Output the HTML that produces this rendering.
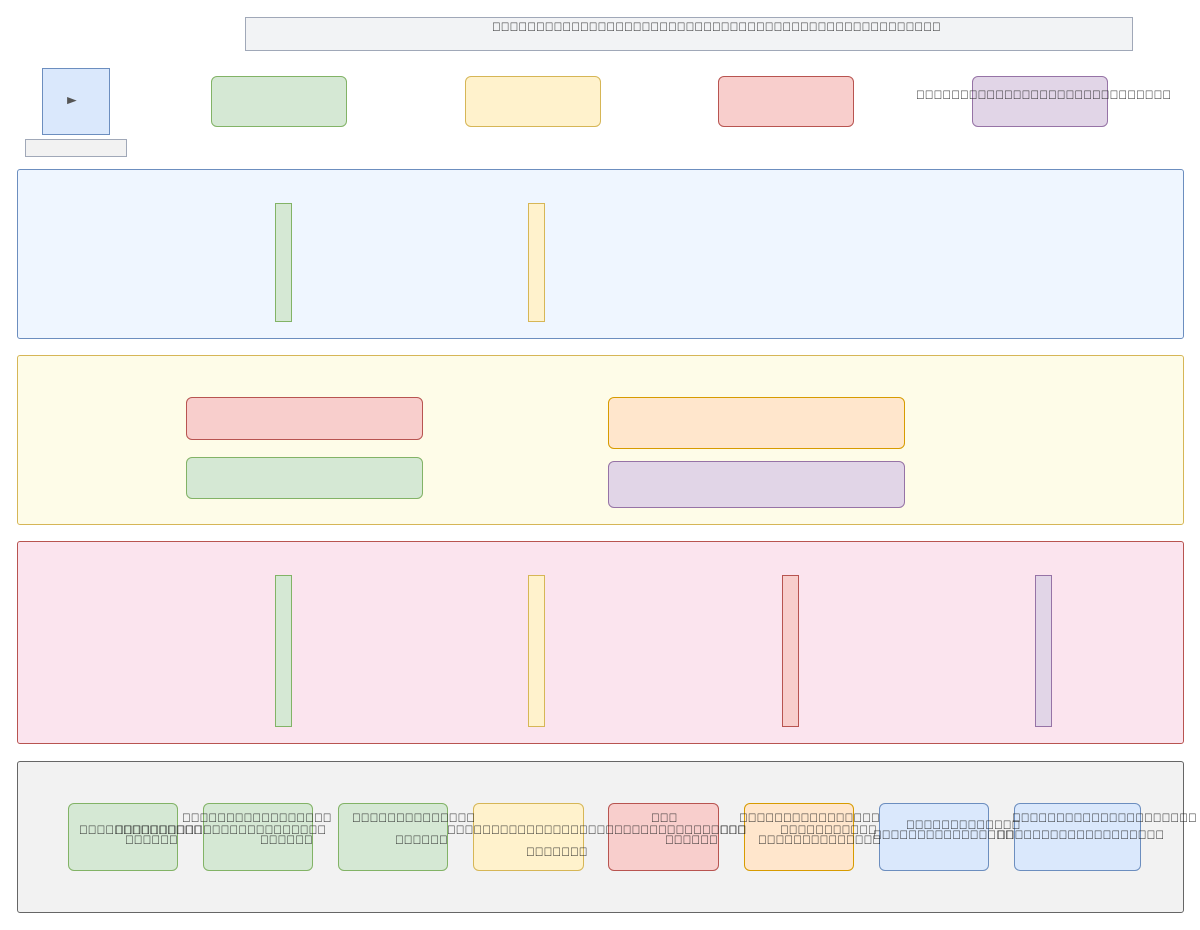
<!DOCTYPE html>
<html><head><meta charset="utf-8"><style>
body{margin:0;width:1200px;height:930px;background:#fff;position:relative;overflow:hidden;font-family:"Liberation Sans",sans-serif;font-size:12px;color:#222}
div{position:absolute;box-sizing:border-box}
.r{border-radius:6px}
.t{white-space:nowrap;line-height:14px;height:14px;letter-spacing:-0.2px}
.g{background:#d5e8d4;border:1px solid #82b366}
.y{background:#fff2cc;border:1px solid #d6b656}
.rd{background:#f8cecc;border:1px solid #b85450}
.p{background:#e1d5e7;border:1px solid #9673a6}
.o{background:#ffe6cc;border:1px solid #d79b00}
.b{background:#dae8fc;border:1px solid #6c8ebf}
</style></head><body>
<div style="left:245px;top:17px;width:888px;height:34px;background:#f2f3f5;border:1px solid #a0a8b8"></div>
<div class="b" style="left:42px;top:68px;width:68px;height:67px;"></div>
<div style="left:64px;top:92px;color:#555;font-size:16px;transform:scaleY(0.75)">►</div>
<div style="left:25px;top:139px;width:102px;height:18px;background:#f2f2f2;border:1px solid #a0a8b8"></div>
<div class="g r" style="left:211px;top:76px;width:136px;height:51px"></div>
<div class="y r" style="left:465px;top:76px;width:136px;height:51px"></div>
<div class="rd r" style="left:718px;top:76px;width:136px;height:51px"></div>
<div class="p r" style="left:972px;top:76px;width:136px;height:51px"></div>

<div style="left:17px;top:169px;width:1167px;height:170px;background:#eff6ff;border:1px solid #6c8ebf;border-radius:3px"></div>
<div class="g" style="left:275px;top:203px;width:17px;height:119px"></div>
<div class="y" style="left:528px;top:203px;width:17px;height:119px"></div>

<div style="left:17px;top:355px;width:1167px;height:170px;background:#fefce8;border:1px solid #d6b656;border-radius:3px"></div>
<div class="rd r" style="left:186px;top:397px;width:237px;height:43px"></div>
<div class="g r" style="left:186px;top:457px;width:237px;height:42px"></div>
<div class="o r" style="left:608px;top:397px;width:297px;height:52px"></div>
<div class="p r" style="left:608px;top:461px;width:297px;height:47px"></div>

<div style="left:17px;top:541px;width:1167px;height:203px;background:#fbe4ee;border:1px solid #b85450;border-radius:3px"></div>
<div class="g" style="left:275px;top:575px;width:17px;height:152px"></div>
<div class="y" style="left:528px;top:575px;width:17px;height:152px"></div>
<div class="rd" style="left:782px;top:575px;width:17px;height:152px"></div>
<div class="p" style="left:1035px;top:575px;width:17px;height:152px"></div>

<div style="left:17px;top:761px;width:1167px;height:152px;background:#f2f2f2;border:1px solid #666;border-radius:3px"></div>
<div class="g r" style="left:68px;top:803px;width:110px;height:68px"></div>
<div class="g r" style="left:203px;top:803px;width:110px;height:68px"></div>
<div class="g r" style="left:338px;top:803px;width:110px;height:68px"></div>
<div class="y r" style="left:473px;top:803px;width:111px;height:68px"></div>
<div class="rd r" style="left:608px;top:803px;width:111px;height:68px"></div>
<div class="o r" style="left:744px;top:803px;width:110px;height:68px"></div>
<div class="b r" style="left:879px;top:803px;width:110px;height:68px"></div>
<div class="b r" style="left:1014px;top:803px;width:127px;height:68px"></div>

<div class="t" style="left:492px;top:20px">&#xE000;&#xE000;&#xE000;&#xE000;&#xE000;&#xE000;&#xE000;&#xE000;&#xE000;&#xE000;&#xE000;&#xE000;&#xE000;&#xE000;&#xE000;&#xE000;&#xE000;&#xE000;&#xE000;&#xE000;&#xE000;&#xE000;&#xE000;&#xE000;&#xE000;&#xE000;&#xE000;&#xE000;&#xE000;&#xE000;&#xE000;&#xE000;&#xE000;&#xE000;&#xE000;&#xE000;&#xE000;&#xE000;&#xE000;&#xE000;&#xE000;&#xE000;&#xE000;&#xE000;&#xE000;&#xE000;&#xE000;&#xE000;&#xE000;&#xE000;&#xE000;</div>
<div class="t" style="left:916px;top:88px">&#xE000;&#xE000;&#xE000;&#xE000;&#xE000;&#xE000;&#xE000;&#xE000;&#xE000;&#xE000;&#xE000;&#xE000;&#xE000;&#xE000;&#xE000;&#xE000;&#xE000;&#xE000;&#xE000;&#xE000;&#xE000;&#xE000;&#xE000;&#xE000;&#xE000;&#xE000;&#xE000;&#xE000;&#xE000;</div>

<div class="t" style="left:79px;top:823px">&#xE000;&#xE000;&#xE000;&#xE000;&#xE000;&#xE000;&#xE000;&#xE000;&#xE000;&#xE000;&#xE000;&#xE000;&#xE000;&#xE000;</div>
<div class="t" style="left:125px;top:833px">&#xE000;&#xE000;&#xE000;&#xE000;&#xE000;&#xE000;</div>
<div class="t" style="left:115px;top:823px">&#xE000;&#xE000;&#xE000;&#xE000;&#xE000;&#xE000;&#xE000;&#xE000;&#xE000;&#xE000;&#xE000;&#xE000;&#xE000;&#xE000;&#xE000;&#xE000;&#xE000;&#xE000;&#xE000;&#xE000;&#xE000;&#xE000;&#xE000;&#xE000;</div>
<div class="t" style="left:182px;top:811px">&#xE000;&#xE000;&#xE000;&#xE000;&#xE000;&#xE000;&#xE000;&#xE000;&#xE000;&#xE000;&#xE000;&#xE000;&#xE000;&#xE000;&#xE000;&#xE000;&#xE000;</div>
<div class="t" style="left:260px;top:833px">&#xE000;&#xE000;&#xE000;&#xE000;&#xE000;&#xE000;</div>
<div class="t" style="left:352px;top:811px">&#xE000;&#xE000;&#xE000;&#xE000;&#xE000;&#xE000;&#xE000;&#xE000;&#xE000;&#xE000;&#xE000;&#xE000;&#xE000;&#xE000;</div>
<div class="t" style="left:395px;top:833px">&#xE000;&#xE000;&#xE000;&#xE000;&#xE000;&#xE000;</div>
<div class="t" style="left:447px;top:823px">&#xE000;&#xE000;&#xE000;&#xE000;&#xE000;&#xE000;&#xE000;&#xE000;&#xE000;&#xE000;&#xE000;&#xE000;&#xE000;&#xE000;&#xE000;&#xE000;&#xE000;&#xE000;&#xE000;</div>
<div class="t" style="left:526px;top:845px">&#xE000;&#xE000;&#xE000;&#xE000;&#xE000;&#xE000;&#xE000;</div>
<div class="t" style="left:651px;top:811px">&#xE000;&#xE000;&#xE000;</div>
<div class="t" style="left:614px;top:823px">&#xE000;&#xE000;&#xE000;&#xE000;&#xE000;&#xE000;&#xE000;&#xE000;&#xE000;&#xE000;&#xE000;&#xE000;&#xE000;&#xE000;&#xE000;</div>
<div class="t" style="left:665px;top:833px">&#xE000;&#xE000;&#xE000;&#xE000;&#xE000;&#xE000;</div>
<div class="t" style="left:720px;top:823px">&#xE000;&#xE000;&#xE000;</div>
<div class="t" style="left:739px;top:811px">&#xE000;&#xE000;&#xE000;&#xE000;&#xE000;&#xE000;&#xE000;&#xE000;&#xE000;&#xE000;&#xE000;&#xE000;&#xE000;&#xE000;&#xE000;&#xE000;</div>
<div class="t" style="left:780px;top:823px">&#xE000;&#xE000;&#xE000;&#xE000;&#xE000;&#xE000;&#xE000;&#xE000;&#xE000;&#xE000;&#xE000;</div>
<div class="t" style="left:758px;top:833px">&#xE000;&#xE000;&#xE000;&#xE000;&#xE000;&#xE000;&#xE000;&#xE000;&#xE000;&#xE000;&#xE000;&#xE000;&#xE000;&#xE000;</div>
<div class="t" style="left:906px;top:818px">&#xE000;&#xE000;&#xE000;&#xE000;&#xE000;&#xE000;&#xE000;&#xE000;&#xE000;&#xE000;&#xE000;&#xE000;&#xE000;</div>
<div class="t" style="left:873px;top:828px">&#xE000;&#xE000;&#xE000;&#xE000;&#xE000;&#xE000;&#xE000;&#xE000;&#xE000;&#xE000;&#xE000;&#xE000;&#xE000;&#xE000;&#xE000;&#xE000;</div>
<div class="t" style="left:1012px;top:811px">&#xE000;&#xE000;&#xE000;&#xE000;&#xE000;&#xE000;&#xE000;&#xE000;&#xE000;&#xE000;&#xE000;&#xE000;&#xE000;&#xE000;&#xE000;&#xE000;&#xE000;&#xE000;&#xE000;&#xE000;&#xE000;</div>
<div class="t" style="left:997px;top:828px">&#xE000;&#xE000;&#xE000;&#xE000;&#xE000;&#xE000;&#xE000;&#xE000;&#xE000;&#xE000;&#xE000;&#xE000;&#xE000;&#xE000;&#xE000;&#xE000;&#xE000;&#xE000;&#xE000;</div>
</body></html>
